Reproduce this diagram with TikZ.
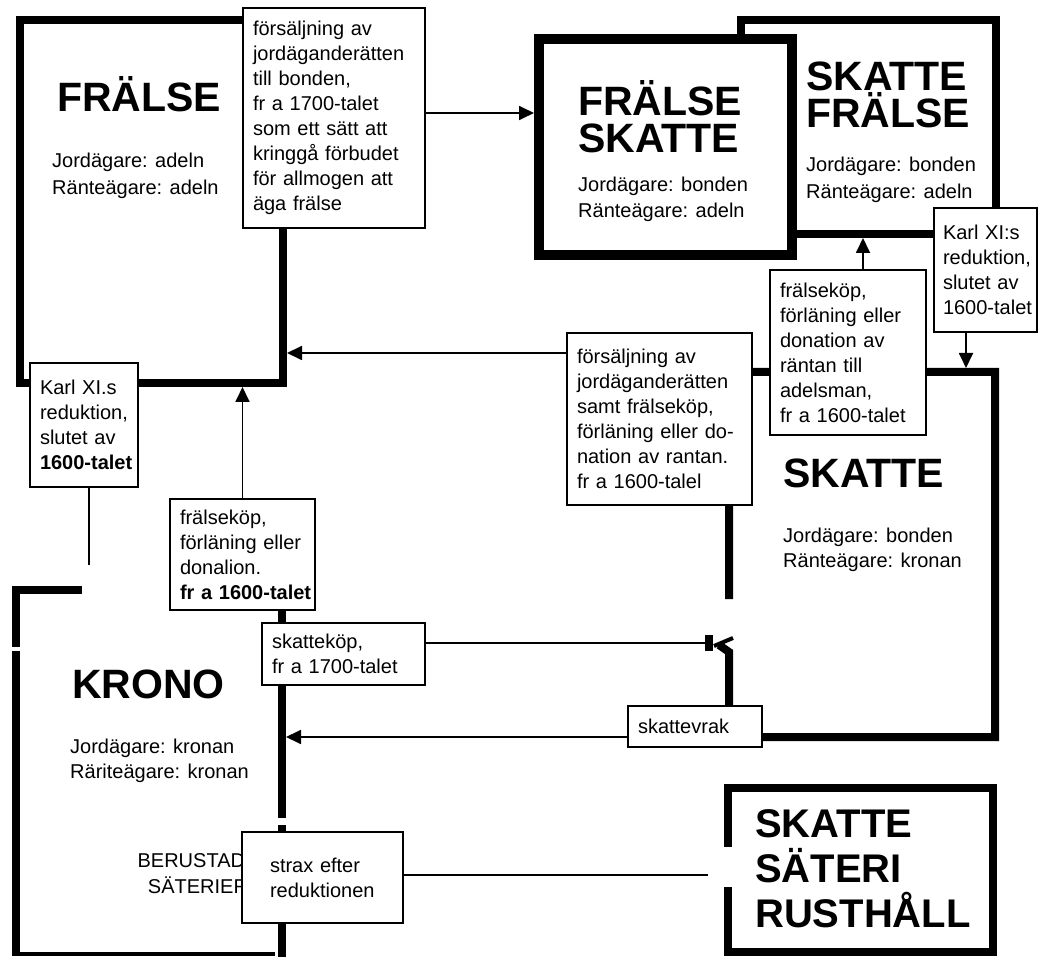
\documentclass[tikz,border=0pt]{standalone}
\usepackage{fontspec}
\setmainfont{Liberation Sans}
\usetikzlibrary{arrows.meta}

\begin{document}
\begin{tikzpicture}[>={Triangle[length=15pt,width=14pt]}, x=1pt, y=-1pt,
    wall/.style={line width=8pt},
    area/.style={inner sep=0pt, outer sep=4pt},
    note/.style={draw, line width=1.8pt, fill=white, inner xsep=10pt, inner ysep=0pt, align=left,
      font={\fontsize{20}{25}\selectfont\hyphenpenalty=10000\exhyphenpenalty=10000}},
    head/.style={anchor=base west, inner sep=0pt, align=left,
      font={\fontsize{41}{37}\selectfont\bfseries\lineskiplimit=-100pt}},
    own/.style={anchor=base west, inner sep=0pt, align=left, font={\fontsize{20}{27}\selectfont}},
    link/.style={line width=1.8pt}]
	\useasboundingbox (0,0) rectangle (1053,957);

	\node[area, draw, wall, minimum width=263pt, minimum height=363pt] (fralse) at (151.5,201.5) {};
	\node[area, draw, wall, minimum width=255pt, minimum height=214pt] (skattefralse) at (868.5,127) {};
	\node[area, draw, fill=white, line width=10pt, outer sep=5pt, minimum width=253pt, minimum height=216pt] (fralseskatte) at (665.5,147) {};
	\node[area, minimum width=266pt, minimum height=365pt] (skatte) at (862,554.5) {};
	\node[area, minimum width=266pt, minimum height=364pt] (krono) at (149,772) {};
	\node[area, minimum width=265pt, minimum height=164pt] (saterirust) at (860.5,870) {};

	\draw[wall] (729,599) -- (729,372) -- (995,372) -- (995,737) -- (729,737) -- (729,652) -- (719,645);
	\draw[line width=4pt] (714,646) -- (733,638);
	\draw[wall] (82,590) -- (16,590) -- (16,647);
	\draw[wall] (16,651) -- (16,956);
	\draw[line width=4pt] (12,954) -- (275,954);
	\draw[wall] (282,600) -- (282,818);
	\draw[wall] (282,825) -- (282,957);
	\draw[wall] (728,847) -- (728,788) -- (993,788) -- (993,952) -- (728,952) -- (728,887);

	\node[head] (fralse-t) at (57,112) {FRÄLSE};
	\node[own] (fralse-o) at (52,195) {Jordägare: adeln\\Ränteägare: adeln};
	\node[head] (fralseskatte-t) at (578,153) {FRÄLSE\\SKATTE};
	\node[own, font={\fontsize{20}{26}\selectfont}] (fralseskatte-o) at (578,218) {Jordägare: bonden\\Ränteägare: adeln};
	\node[head] (skattefralse-t) at (806,128) {SKATTE\\FRÄLSE};
	\node[own] (skattefralse-o) at (806,199) {Jordägare: bonden\\Ränteägare: adeln};
	\node[head] (skatte-t) at (783,488) {SKATTE};
	\node[own, font={\fontsize{20}{25}\selectfont}] (skatte-o) at (783,568) {Jordägare: bonden\\Ränteägare: kronan};
	\node[head] (krono-t) at (72,698) {KRONO};
	\node[own, font={\fontsize{20}{25}\selectfont}] (krono-o) at (70,778) {Jordägare: kronan\\Räriteägare: kronan};
	\node[head, font={\fontsize{40}{45}\selectfont\bfseries\lineskiplimit=-100pt}] (saterirust-t) at (755,927) {SKATTE\\SÄTERI\\RUSTHÅLL};
	\node[anchor=base, inner sep=0pt, align=center, font={\fontsize{20}{26}\selectfont}] (berustade) at (198,893) {BERUSTADE\\SÄTERIER};

	\node[note, text width=162pt, minimum height=220pt] (salja) at (334,118) {försäljning av\\jordäganderätten\\till bonden,\\fr a 1700-talet\\som ett sätt att\\kringgå förbudet\\för allmogen att\\äga frälse};
	\node[note, text width=165pt, minimum height=172pt] (kopB) at (659.5,419) {försäljning av\\jordäganderätten\\samt frälseköp,\\förläning eller do-\\nation av rantan.\\fr a 1600-talel};
	\node[note, text width=136pt, minimum height=165pt] (kopC) at (848,352.5) {frälseköp,\\förläning eller\\donation av\\räntan till\\adelsman,\\fr a 1600-talet};
	\node[note, inner xsep=9pt, text width=85pt, minimum height=124pt] (karlB) at (985.5,270) {Karl XI:s\\reduktion,\\slutet av\\1600-talet};
	\node[note, text width=88pt, minimum height=124pt] (karlA) at (84,425) {Karl XI.s\\reduktion,\\slutet av\\\textbf{1600-talet}};
	\node[note, text width=125pt, minimum height=111pt] (kopA) at (242.5,554.5) {frälseköp,\\förläning eller\\donalion.\\\textbf{fr~a~1600-talet}};
	\node[note, text width=143pt, minimum height=62pt] (skattekop) at (343.5,654) {skatteköp,\\fr a 1700-talet};
	\node[note, text width=114pt, minimum height=41pt] (vrak) at (695,726.5) {skattevrak};
	\node[note, inner xsep=28pt, text width=105pt, minimum height=91pt] (strax) at (322.5,877.5) {strax efter\\reduktionen};

	\draw[link,->] (salja.east |- 0,113) -- (fralseskatte.west |- 0,113);
	\draw[link,->] (kopB.west |- 0,353) -- (fralse.east |- 0,353);
	\draw[link,->] (kopC.north -| 863,0) -- (skattefralse.south -| 863,0);
	\draw[link,->] (karlB.south -| 966,0) -- (skatte.north -| 966,0);
	\draw[link,->] (kopA.north) -- (fralse.south -| kopA.north);
	\draw[link, shorten >=21pt] (karlA.south -| 89,0) -- (krono.north -| 89,0);
	\draw[link, -{Bar[width=16pt,line width=8pt]}, shorten >=12pt] (skattekop.east |- 0,643) -- (skatte.west |- 0,643);
	\draw[link,->] (vrak.west |- 0,737) -- (krono.east |- 0,737);
	\draw[link, shorten >=16pt] (strax.east |- 0,875) -- (saterirust.west |- 0,875);
\end{tikzpicture}
\end{document}
